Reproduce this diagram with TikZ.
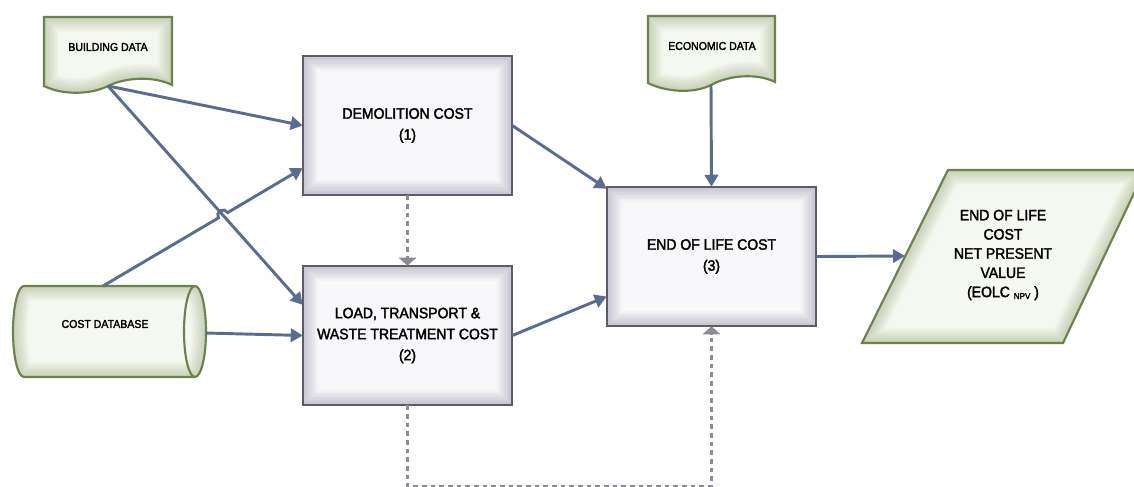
\documentclass[tikz,border=0pt]{standalone}
\usepackage{fontspec}
\setmainfont{Liberation Sans}[FakeStretch=0.93,FakeBold=2.2]
\usetikzlibrary{arrows.meta,calc,intersections}
\definecolor{arrowc}{HTML}{5A6D8C}
\definecolor{dashc}{HTML}{8C8B96}
\definecolor{boxb}{HTML}{5E5A6C}
\definecolor{boxf}{HTML}{F8F8FB}
\definecolor{boxg}{HTML}{857F96}
\definecolor{grnb}{HTML}{6C8150}
\definecolor{grnf}{HTML}{F5F8F0}
\definecolor{grng}{HTML}{8FA070}
\newcommand\px{0.75pt}
\newcommand\glowshape[4]{%
 \fill[#1] #4;
 \begin{scope}\clip #4;
  \foreach \w in {2,4,...,22} {\draw[#2,line width=\w pt,opacity=.045] #4;}
 \end{scope}
 \draw[#3,line width=1.6pt] #4;}
\tikzset{
 bigtxt/.style={align=center, inner sep=0pt, text=black, font=\fontsize{11.3}{15.75}\selectfont},
 smalltxt/.style={align=center, inner sep=0pt, text=black, font=\fontsize{8.5}{10}\selectfont},
 arr/.style={draw=arrowc, line width=2.2pt, -{Triangle[length=9pt,width=10pt]}},
 dsh/.style={draw=dashc, line width=1.6pt, dash pattern=on 3.5pt off 3pt, -{Triangle[length=6pt,width=13pt]}}
}
\begin{document}
\begin{tikzpicture}[x=0.75pt,y=-0.75pt]
\clip (0,0) rectangle (1134,486);
% process boxes
\glowshape{boxf}{boxg}{boxb}{(303,56) rectangle (512,195)}
\glowshape{boxf}{boxg}{boxb}{(303,266) rectangle (512,405)}
\glowshape{boxf}{boxg}{boxb}{(607,187) rectangle (816,326)}
\node[bigtxt, minimum width=209*\px, minimum height=139*\px] (dem) at (407.5,125.5) {DEMOLITION COST\\(1)};
\node[bigtxt, minimum width=209*\px, minimum height=139*\px] (ld) at (407.5,335.5) {LOAD, TRANSPORT \&\\WASTE TREATMENT COST\\(2)};
\node[bigtxt, minimum width=209*\px, minimum height=139*\px] (eol) at (711.5,256.5) {END OF LIFE COST\\(3)};
% documents
\glowshape{grnf}{grng}{grnb}{(44,17) -- (172,17) -- (172,85) .. controls (154,76) and (126,77) .. (108,86) .. controls (90,95) and (62,95) .. (44,86) -- cycle}
\node[smalltxt] (bd) at (108,47) {BUILDING DATA};
\coordinate (bdo) at (108,86);
\glowshape{grnf}{grng}{grnb}{(648,16) -- (775,16) -- (775,82) .. controls (757,73) and (729,75) .. (711,85) .. controls (693,94) and (666,92) .. (648,83) -- cycle}
\node[smalltxt] (ed) at (712,46) {ECONOMIC DATA};
\coordinate (edo) at (711,85);
% cylinder
\glowshape{grnf}{grng}{grnb}{(24,286) -- (195,286) arc[start angle=90,end angle=-90,x radius=11*\px,y radius=45.5*\px] -- (24,377) arc[start angle=270,end angle=90,x radius=11*\px,y radius=45.5*\px] -- cycle}
\draw[grnb,line width=1.6pt] (195,286) arc[start angle=90,end angle=270,x radius=11*\px,y radius=45.5*\px];
\node[smalltxt] (cdb) at (105,324) {COST DATABASE};
\coordinate (cdbt) at (103,286);
\coordinate (cdbr) at (206,333);
% output parallelogram
\glowshape{grnf}{grng}{grnb}{(948,170) -- (1145,170) -- (1063,343) -- (862,343) -- cycle}
\node[bigtxt, font=\fontsize{11.3}{14.4}\selectfont] (npv) at (1003,255) {END OF LIFE\\COST\\NET PRESENT\\VALUE\\(EOLC \raisebox{-1.5pt}{\fontsize{6.5}{6}\selectfont NPV} )};
\coordinate (npvin) at (905,256);
% connectors
\path[name path=pa] (bdo) -- ([yshift=23pt]ld.west);
\path[name path=pb] (cdbt) -- ([yshift=-32pt]dem.west);
\path[name intersections={of=pa and pb, by=X}];
\draw[arr] (bdo) -- (dem.west);
\draw[arr] (bdo) -- ([yshift=23pt]ld.west);
\draw[arr] (cdbt) -- ($(X)!4pt!(cdbt)$) arc[start angle=210,end angle=30,radius=4pt] -- ([yshift=-32pt]dem.west);
\draw[arr] (cdbr) -- (ld.west);
\draw[arr] (dem.east) -- ([yshift=-1.5pt]eol.north west);
\draw[arr] (ld.east) -- ([yshift=-30pt]eol.west);
\draw[arr] (edo) -- (eol.north);
\draw[arr] (eol.east) -- (npvin);
\draw[dsh] (dem.south) -- (ld.north);
\coordinate (b1) at (407.5,486.2);
\coordinate (b2) at (711.5,486.2);
\draw[dsh] (ld.south) -- (b1) -- (b2) -- (eol.south);
\end{tikzpicture}
\end{document}
